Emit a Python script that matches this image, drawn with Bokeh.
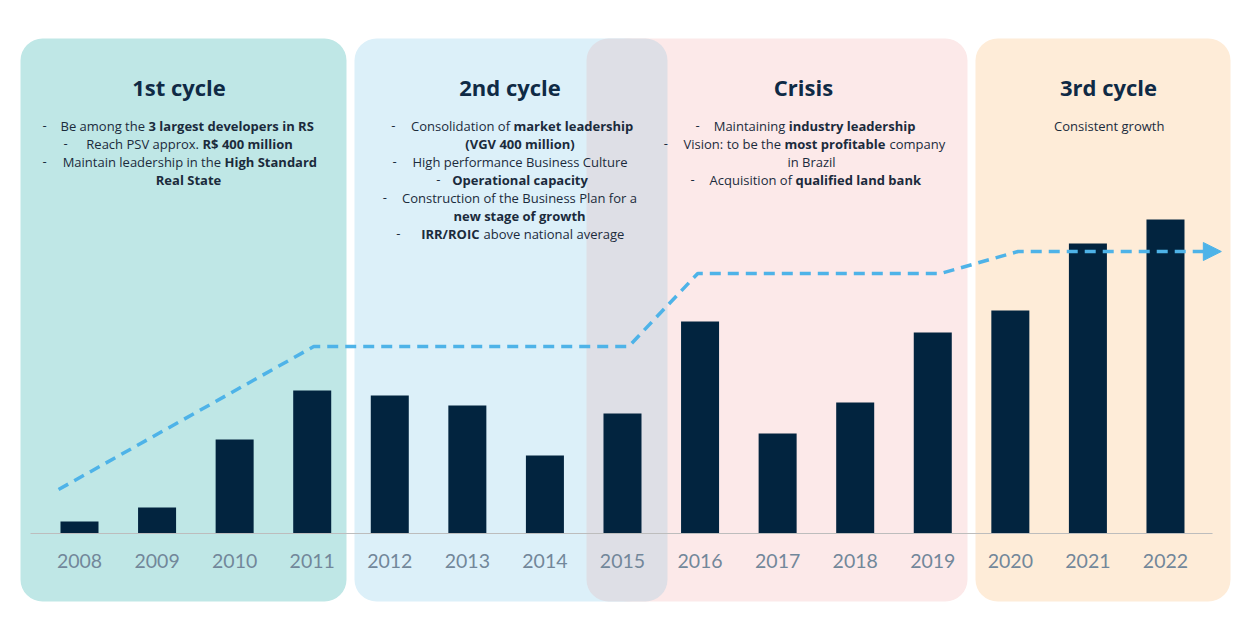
from bokeh.plotting import figure
from bokeh.models import Range1d, Arrow, NormalHead
from bokeh.core.properties import value
from bokeh.embed import file_html
from bokeh.resources import INLINE

# ---------------- data ----------------
years = [2008, 2009, 2010, 2011, 2012, 2013, 2014, 2015,
         2016, 2017, 2018, 2019, 2020, 2021, 2022]
launches = [12, 26, 94, 143, 138, 128, 78, 120,
            212, 100, 131, 201, 223, 290, 314]
year_labels = [str(y) for y in years]

# schematic growth trend (dashed arrow)
trend_x = [2007.73, 2011.02, 2015.08, 2015.97, 2019.10, 2020.10, 2022.52]
trend_y = [44, 187, 187, 260, 260, 282, 282]
trend_tip_x = 2022.72

cycle_titles = ["1st cycle", "2nd cycle", "Crisis", "3rd cycle"]

# ---------------- layout helpers (pixel -> data) ----------------
STEP = 77.57
X0 = 79.0
def xd(px):
    return 2008 + (px - X0) / STEP

def yd(py):
    return 533 - py

FONT = value("Open Sans")
NAVY = "#0f2a45"
TEXT = "#1b2b3c"

p = figure(width=1250, height=640,
           x_range=Range1d(xd(0), xd(1250)), y_range=Range1d(yd(640), yd(0)),
           output_backend="svg", toolbar_location=None,
           x_axis_type=None, y_axis_type=None, min_border=0,
           outline_line_color=None, background_fill_color="white",
           border_fill_color="white")

# ---------------- background panels ----------------
panels = [
    (20, 346, "#bfe7e6"),
    (354, 650, "#dcf0f9"),
    (605, 967, "#fce9e9"),
    (586, 667, "#dedfe6"),
    (975, 1230, "#feecd8"),
]
for l, r, c in panels:
    p.quad(left=[xd(l)], right=[xd(r)], top=[yd(38)], bottom=[yd(601)],
           fill_color=c, line_color=None, border_radius=22)

# ---------------- bars ----------------
p.vbar(x=years, top=launches, bottom=0, width=0.49,
       fill_color="#02243f", line_color=None)

# baseline
p.line(x=[xd(30), xd(1212)], y=[0, 0], line_color="#bdbdbd", line_width=1)

# year labels
p.text(x=years, y=[yd(560)] * len(years), text=year_labels,
       text_font=value("Lato"), text_font_size="19.5px", text_color="#72879a",
       text_align="center", text_baseline="middle")

# ---------------- trend line ----------------
p.line(x=trend_x, y=trend_y, line_color="#4eb3e8", line_width=3.5,
       line_dash="11 7")
p.add_layout(Arrow(end=NormalHead(size=18, fill_color="#4eb3e8",
                                  line_color="#4eb3e8"),
                   x_start=trend_x[-1] - 0.05, y_start=trend_y[-1],
                   x_end=trend_tip_x, y_end=trend_y[-1],
                   line_alpha=0))

# ---------------- titles ----------------
title_x = [178.5, 509.5, 803, 1108]
for t, x in zip(cycle_titles, title_x):
    p.text(x=[xd(x)], y=[yd(86.5)], text=[t], text_font=FONT,
           text_font_size="22px", text_font_style="bold", text_color=NAVY,
           text_align="center", text_baseline="middle")

# ---------------- bullet texts ----------------
def seg(x, y, t, bold=False, align="left"):
    p.text(x=[xd(x)], y=[yd(y)], text=[t], text_font=FONT,
           text_font_size="13px",
           text_font_style="bold" if bold else "normal",
           text_color=TEXT, text_align=align, text_baseline="middle")

# 1st cycle
seg(42, 125, "-")
seg(144.5, 125, "Be among the", align="right")
seg(148, 125, "3 largest developers in RS", True)
seg(63, 143, "-")
seg(198.5, 143, "Reach PSV approx.", align="right")
seg(202, 143, "R$ 400 million", True)
seg(42, 161, "-")
seg(220.5, 161, "Maintain leadership in the", align="right")
seg(224, 161, "High Standard", True)
seg(188, 179, "Real State", True, "center")

# 2nd cycle
seg(390.7, 125, "-")
seg(509.5, 125, "Consolidation of", align="right")
seg(513, 125, "market leadership", True)
seg(519.5, 143, "(VGV 400 million)", True, "center")
seg(392, 161, "-")
seg(519.5, 161, "High performance Business Culture", align="center")
seg(435.7, 179, "-")
seg(451.7, 179, "Operational capacity", True)
seg(382.3, 197, "-")
seg(519, 197, "Construction of the Business Plan for a", align="center")
seg(519, 215, "new stage of growth", True, "center")
seg(395.7, 233, "-")
seg(479, 233, "IRR/ROIC", True, "right")
seg(483, 233, "above national average")

# Crisis
seg(695, 125, "-")
seg(784.8, 125, "Maintaining", align="right")
seg(788.3, 125, "industry leadership", True)
seg(663.3, 143, "-")
seg(780.5, 143, "Vision: to be the", align="right")
seg(784, 143, "most profitable", True)
seg(889, 143, "company")
seg(811, 161, "in Brazil", align="center")
seg(690, 179, "-")
seg(791.5, 179, "Acquisition of", align="right")
seg(795, 179, "qualified land bank", True)

# 3rd cycle
seg(1108.7, 125, "Consistent growth", align="center")

open("out.html", "w").write(file_html(p, INLINE))
